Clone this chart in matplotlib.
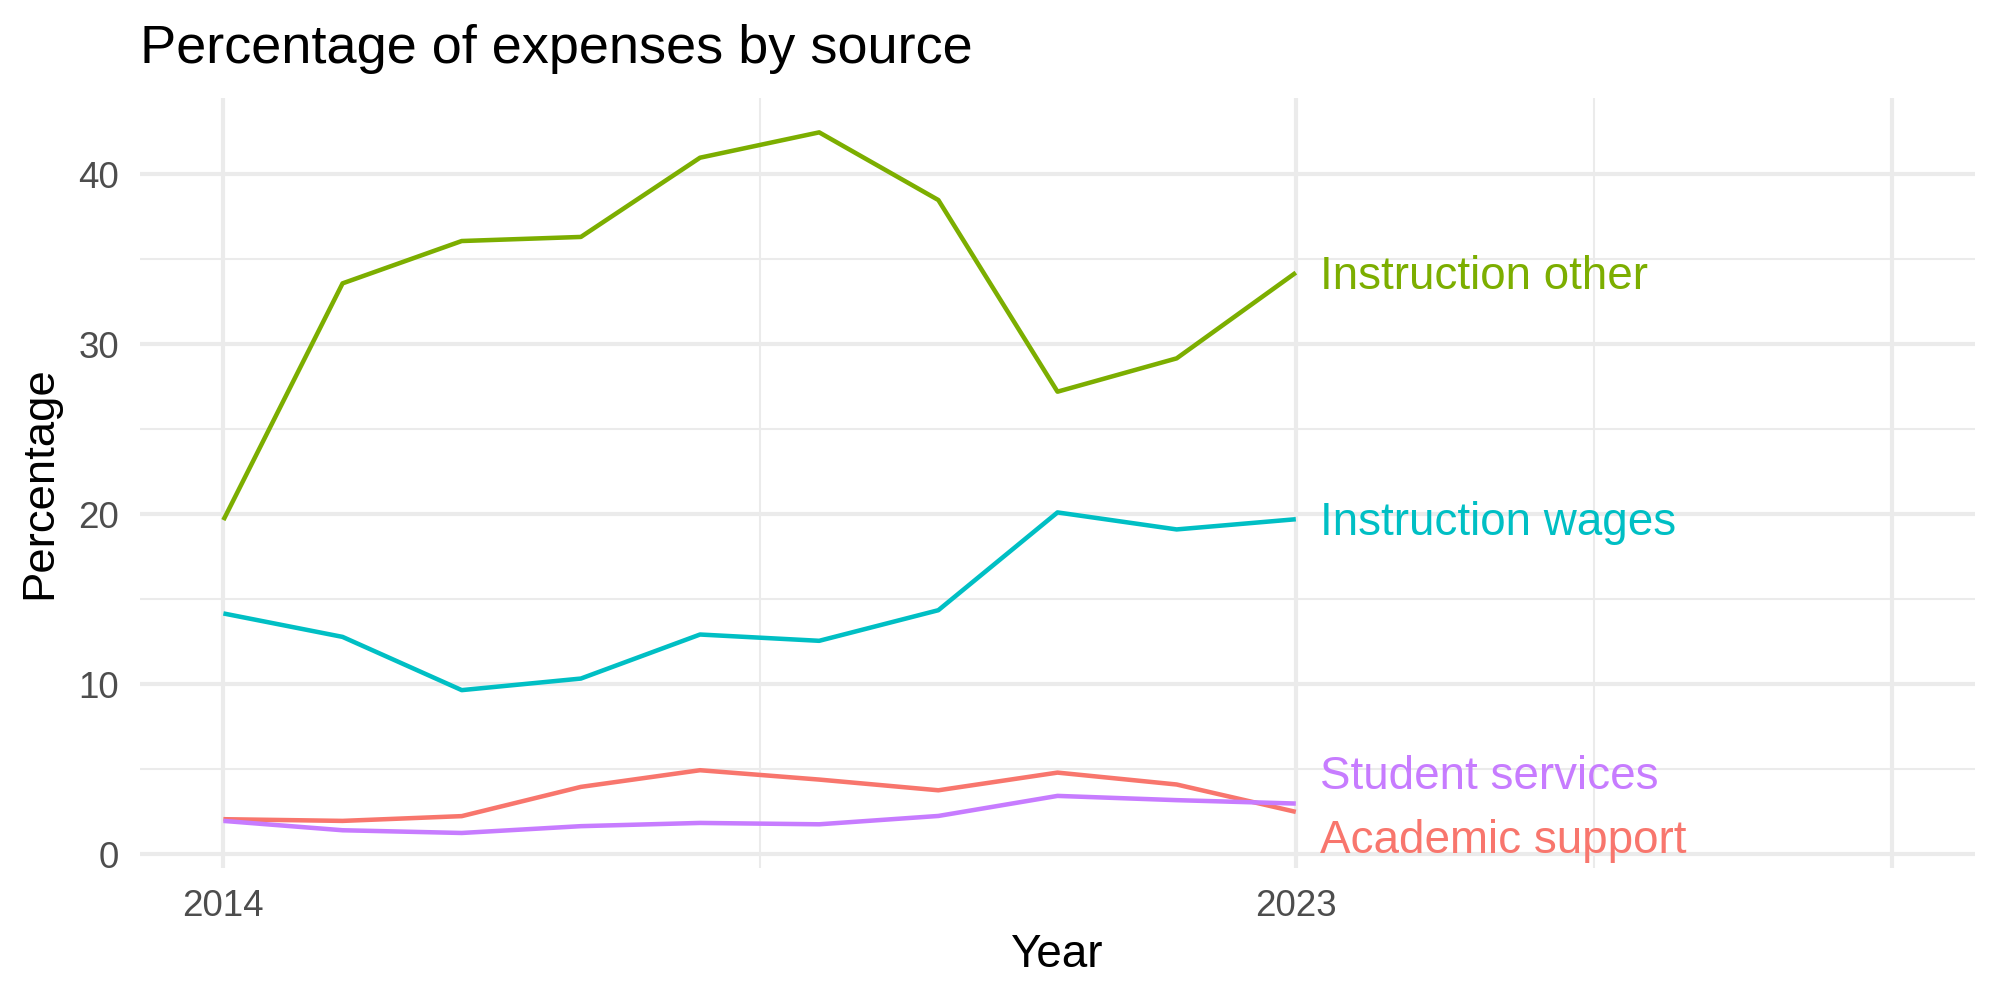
import matplotlib
matplotlib.use("Agg")
import matplotlib.pyplot as plt

plt.rcParams["font.family"] = ["Liberation Sans", "DejaVu Sans"]

# data
years = [2014, 2015, 2016, 2017, 2018, 2019, 2020, 2021, 2022, 2023]
academic_support = [2.06, 1.96, 2.24, 3.96, 4.94, 4.39, 3.76, 4.80, 4.10, 2.49]
instruction_other = [19.65, 33.57, 36.06, 36.30, 40.96, 42.45, 38.47, 27.20, 29.16, 34.20]
instruction_wages = [14.16, 12.78, 9.65, 10.33, 12.92, 12.55, 14.35, 20.10, 19.10, 19.70]
student_services = [1.96, 1.41, 1.25, 1.65, 1.84, 1.76, 2.25, 3.43, 3.18, 2.98]

series_names = ["Academic support", "Instruction other", "Instruction wages", "Student services"]
series_values = [academic_support, instruction_other, instruction_wages, student_services]
colors = ["#F8766D", "#7CAE00", "#00BFC4", "#C77CFF"]
# end labels were repelled in the original, so two sit off their line end
label_y = [1.06, 34.2, 19.75, 4.79]

x_major = [2014, 2023, 2028]
x_labels = ["2014", "2023", ""]
x_minor = [2018.5, 2025.5]
y_major = [0, 10, 20, 30, 40]
y_minor = [5, 15, 25, 35]

fig = plt.figure(figsize=(8, 4), dpi=250)
ax = fig.add_axes([0.07, 0.132, 0.9175, 0.7705])

grid = "#EBEBEB"
for v in x_minor:
    ax.axvline(v, color=grid, lw=0.6, zorder=0)
for v in y_minor:
    ax.axhline(v, color=grid, lw=0.6, zorder=0)
for v in x_major:
    ax.axvline(v, color=grid, lw=1.2, zorder=0)
for v in y_major:
    ax.axhline(v, color=grid, lw=1.2, zorder=0)

for name, vals, col, ly in zip(series_names, series_values, colors, label_y):
    ax.plot(years, vals, color=col, lw=1.3, solid_capstyle="butt", zorder=2)
    ax.text(years[-1] + 0.2, ly - 0.96, name, color=col, fontsize=13.2,
            ha="left", va="baseline", zorder=3)

ax.set_xlim(2013.3, 2028.7)
ax.set_ylim(-0.81, 44.5)
ax.set_xticks(x_major)
ax.set_xticklabels(x_labels)
ax.set_yticks(y_major)
ax.tick_params(length=0, labelsize=10.6, labelcolor="#4D4D4D")
ax.tick_params(axis="x", pad=6.0)
ax.tick_params(axis="y", pad=6)
for s in ax.spines.values():
    s.set_visible(False)

fig.text(0.07, 0.937, "Percentage of expenses by source", fontsize=15.6,
         ha="left", va="baseline")
fig.text(0.5285, 0.033, "Year", fontsize=13.2, ha="center", va="baseline")
fig.text(0.02, 0.517, "Percentage", fontsize=13.1, rotation=90,
         ha="center", va="center")

fig.savefig("out.png", dpi=250, facecolor="white")
